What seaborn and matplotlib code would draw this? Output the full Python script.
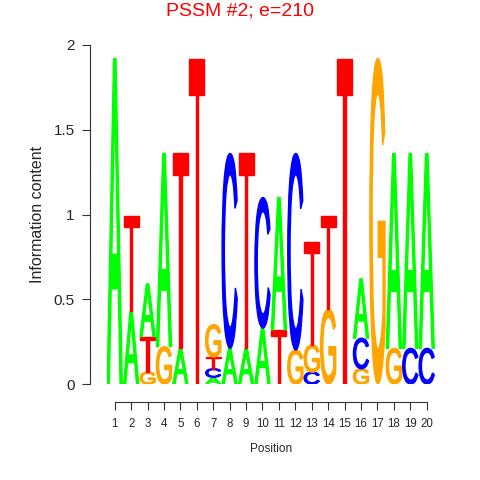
import numpy as np
import pandas as pd
import matplotlib
matplotlib.use("Agg")
import matplotlib.pyplot as plt
import seaborn as sns
from matplotlib.textpath import TextPath
from matplotlib.patches import PathPatch
from matplotlib.font_manager import FontProperties
from matplotlib.transforms import Affine2D

# information content per base at each position (bits)
positions = list(range(1, 21))
A = [1.92, 0.43, 0.31, 1.14, 0.21, 0.00, 0.04, 0.21, 0.21, 0.33,
     0.78, 0.00, 0.00, 0.00, 0.00, 0.35, 0.00, 1.15, 1.15, 1.15]
C = [0.00, 0.00, 0.00, 0.00, 0.00, 0.00, 0.05, 1.15, 0.00, 0.77,
     0.00, 1.16, 0.07, 0.00, 0.00, 0.18, 0.00, 0.00, 0.21, 0.21]
G = [0.00, 0.00, 0.07, 0.22, 0.00, 0.00, 0.19, 0.00, 0.00, 0.00,
     0.00, 0.20, 0.16, 0.44, 0.00, 0.09, 1.92, 0.21, 0.00, 0.00]
T = [0.00, 0.56, 0.21, 0.00, 1.15, 1.92, 0.07, 0.00, 1.15, 0.00,
     0.32, 0.00, 0.61, 0.55, 1.92, 0.00, 0.00, 0.00, 0.00, 0.00]

df = pd.DataFrame({"A": A, "C": C, "G": G, "T": T}, index=positions)
colors = {"A": "#00FF00", "C": "#0000FF", "G": "#FFA500", "T": "#FF0000"}

sns.set_theme(style="ticks")
plt.rcParams["font.family"] = ["Liberation Sans", "DejaVu Sans"]

fig = plt.figure(figsize=(4.8, 4.8), dpi=100)
ax = fig.add_axes([106.5 / 480, 96 / 480, 328.4 / 480, 339 / 480])

fp = FontProperties(family="Liberation Sans")


def draw_letter(ch, x, y0, h, width=0.92):
    tp = TextPath((0, 0), ch, size=1, prop=fp)
    bb = tp.get_extents()
    tr = (Affine2D().translate(-bb.x0, -bb.y0)
          .scale(width / bb.width, h / bb.height)
          .translate(x - width / 2, y0))
    ax.add_patch(PathPatch(tr.transform_path(tp), fc=colors[ch], ec=colors[ch],
                           lw=1.0, joinstyle="miter"))


for pos, row in df.iterrows():
    y = 0.0
    for base, h in row.sort_values().items():
        if h <= 0:
            continue
        draw_letter(base, pos, y, h)
        y += h

ax.set_xlim(0.5, 20.5)
ax.set_ylim(0, 2)
ax.set_xticks(positions)
ax.set_yticks([0, 0.5, 1, 1.5, 2])
ax.set_yticklabels(["0", "0.5", "1", "1.5", "2"])
ax.tick_params(axis="y", labelsize=11, length=5.8, width=0.8, color="#333333", pad=5)
ax.tick_params(axis="x", labelsize=8.3, length=5.8, width=0.8, color="#333333", pad=6)
sns.despine(ax=ax, offset={"left": 12, "bottom": 13}, trim=True)
for s in ("left", "bottom"):
    ax.spines[s].set_linewidth(0.8)
    ax.spines[s].set_color("#333333")

ax.set_xlabel("Position", fontsize=8.5, labelpad=9)
ax.set_ylabel("Information content", fontsize=11.5, labelpad=6)
fig.text(0.5, 1 - 11 / 480, "PSSM #2; e=210", color="#FF0000", fontsize=14,
         ha="center", va="center")

fig.savefig("out.png", dpi=100)
